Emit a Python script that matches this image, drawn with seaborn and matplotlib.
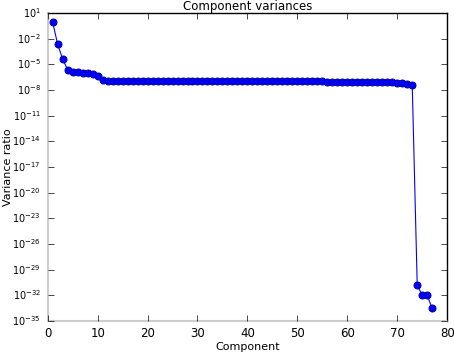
import matplotlib
matplotlib.use("Agg")
import matplotlib.pyplot as plt
import seaborn as sns

# explained variance ratio per component
components = list(range(1, 78))
variance_ratio = [
    0.9, 2.2e-3, 4.3e-5, 2.4e-6, 1.4e-6, 1.15e-6, 1.05e-6, 9.5e-7, 8.0e-7, 4.4e-7,
    1.35e-7, 1.3e-7, 1.3e-7, 1.28e-7, 1.28e-7, 1.27e-7, 1.27e-7, 1.26e-7, 1.26e-7, 1.25e-7,
    1.25e-7, 1.24e-7, 1.24e-7, 1.23e-7, 1.23e-7, 1.22e-7, 1.22e-7, 1.21e-7, 1.2e-7, 1.2e-7,
    1.19e-7, 1.18e-7, 1.18e-7, 1.17e-7, 1.16e-7, 1.15e-7, 1.15e-7, 1.14e-7, 1.13e-7, 1.12e-7,
    1.12e-7, 1.11e-7, 1.1e-7, 1.1e-7, 1.09e-7, 1.08e-7, 1.07e-7, 1.07e-7, 1.06e-7, 1.05e-7,
    1.05e-7, 1.04e-7, 1.03e-7, 1.02e-7, 1.02e-7, 1.01e-7, 1.0e-7, 9.9e-8, 9.8e-8, 9.7e-8,
    9.6e-8, 9.4e-8, 9.2e-8, 9.0e-8, 8.8e-8, 8.6e-8, 8.4e-8, 8.2e-8, 7.8e-8, 7.2e-8,
    6.2e-8, 5.2e-8, 4.3e-8, 1.6e-31, 1.0e-32, 1.0e-32, 3.0e-34,
]

plt.style.use("classic")
plt.rcParams["font.size"] = 8
fig, ax = plt.subplots(figsize=(4.54, 3.54), dpi=100)
fig.patch.set_facecolor("white")

sns.lineplot(x=components, y=variance_ratio, marker="o", color="blue",
             markersize=5, markeredgecolor="#0000aa", linewidth=0.8, ax=ax)

ax.set_yscale("log")
ax.set_xlim(0, 80)
ax.set_ylim(1e-35, 1e1)
ax.set_yticks([10.0 ** e for e in range(1, -36, -3)])
ax.minorticks_off()
ax.tick_params(axis="x", labelsize=8.5)
ax.tick_params(axis="y", labelsize=7, pad=5)
ax.set_xlabel("Component", labelpad=2)
ax.set_ylabel("Variance ratio")
ax.yaxis.set_label_coords(-0.087, 0.5)
ax.set_title("Component variances", fontsize=8.5, pad=2)

for side in ["left", "bottom"]:
    ax.spines[side].set_color("#cccccc")
    ax.spines[side].set_linewidth(1.5)

plt.subplots_adjust(left=0.105, right=0.985, top=0.963, bottom=0.093)
plt.savefig("out.png", dpi=100)
